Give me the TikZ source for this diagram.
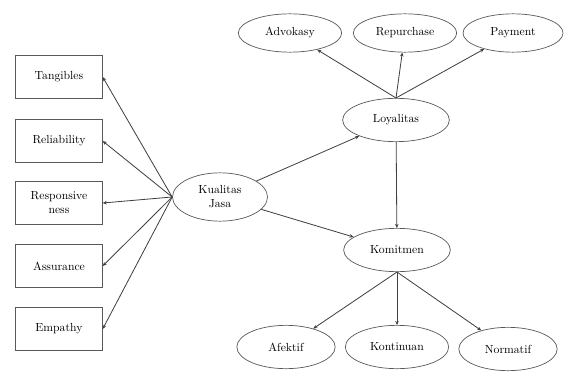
\documentclass[tikz,border=0pt]{standalone}
\usetikzlibrary{shapes.geometric,arrows.meta}
\tikzset{
  dimbox/.style={draw=black!65, line width=0.6pt, minimum width=2.6cm, minimum height=1.28cm, align=center, font=\normalsize},
  varell/.style={ellipse, draw=black!65, line width=0.6pt, minimum width=3.2cm, minimum height=1.3cm, align=center, font=\normalsize},
  indell/.style={ellipse, draw=black!65, line width=0.6pt, minimum width=3.1cm, minimum height=1.15cm, align=center, font=\normalsize},
  path/.style={draw=black!75, line width=0.7pt, -{Stealth[length=3.5pt,width=3pt]}}
}
\begin{document}
\begin{tikzpicture}[x=0.03cm,y=-0.03cm]
\useasboundingbox (0,0) rectangle (571,372);
% dimensions of service quality
\node[dimbox] (tan) at (59,77) {Tangibles};
\node[dimbox] (rel) at (59,141) {Reliability};
\node[dimbox] (res) at (59,203) {Responsive\\ness};
\node[dimbox] (ass) at (59,266) {Assurance};
\node[dimbox] (emp) at (59,329) {Empathy};
% main constructs
\node[varell, minimum width=2.85cm, minimum height=1.45cm, inner sep=1pt] (kj) at (220,197) {Kualitas\\Jasa};
\node[varell] (ly) at (396,120) {Loyalitas};
\node[varell] (km) at (397,250) {Komitmen};
% indicators of loyalitas
\node[indell] (adv) at (290,33) {Advokasy};
\node[indell, inner sep=1pt] (rep) at (405,33) {Repurchase};
\node[indell, minimum width=3cm] (pay) at (513,33) {Payment};
% indicators of komitmen
\node[indell, minimum width=2.95cm, minimum height=1.3cm] (afk) at (286,347) {Afektif};
\node[indell, minimum height=1.3cm] (kon) at (397,347) {Kontinuan};
\node[indell, minimum width=2.95cm, minimum height=1.3cm] (nor) at (508,349) {Normatif};
% arrows to dimensions
\foreach \d in {tan,rel,res,ass,emp}
  \draw[path] (kj.west) -- (\d.east);
% arrows between constructs
\draw[path] (kj) -- (ly);
\draw[path] (kj) -- (km);
\draw[path] (ly) -- (km);
% arrows to indicators
\foreach \i in {adv,rep,pay}
  \draw[path] (ly.north) -- (\i);
\foreach \i in {afk,kon,nor}
  \draw[path] (km.south) -- (\i);
\end{tikzpicture}
\end{document}
